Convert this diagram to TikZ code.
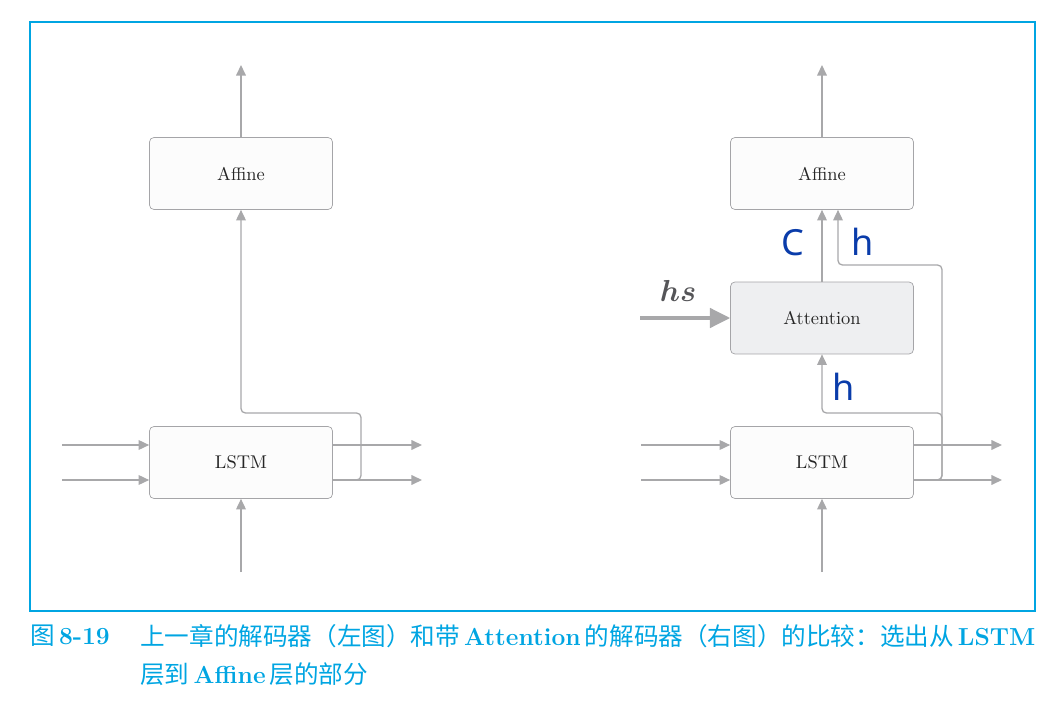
\documentclass[tikz,border=0pt]{standalone}
\usepackage{fontspec}
\usepackage{amsmath,bm}
\usetikzlibrary{arrows.meta,positioning,calc}
\newfontfamily\cjk{Noto Sans CJK SC}
\newfontfamily\hand{Noto Sans}
\definecolor{linegray}{RGB}{168,168,170}
\definecolor{boxgray}{RGB}{165,165,168}
\definecolor{attgray}{RGB}{238,239,241}
\definecolor{capcyan}{RGB}{0,165,226}
\definecolor{handblue}{RGB}{10,60,170}
\definecolor{hsgray}{RGB}{85,85,88}
\newcommand{\zh}[1]{{\cjk #1}}
\tikzset{
  blk/.style={draw=boxgray,rounded corners=2.5pt,fill=black!1,
              minimum width=3.66cm,minimum height=1.44cm,inner sep=0pt,
              font=\fontsize{10.5}{12}\selectfont,text=black!85},
  blkA/.style={blk,fill=attgray},
  ar/.style={-{Triangle[length=6pt,width=5.5pt]},linegray,line width=0.75pt},
  hsar/.style={-{Triangle[length=11.5pt,width=11pt]},linegray,line width=2pt},
  hnd/.style={text=handblue,font=\hand\fontsize{20.5}{22}\selectfont},
  captxt/.style={anchor=west,inner sep=0pt,text=capcyan,font=\fontsize{14}{16}\selectfont},
}

\begin{document}
\begin{tikzpicture}[x=0.02cm,y=-0.02cm]
  \useasboundingbox (0,0) rectangle (1063,710);
  \draw[capcyan,line width=0.6pt] (30,22) rectangle (1035,611);

  % left: decoder of the previous chapter
  \node[blk] (aff1) at (241,173.5) {Affine};
  \node[blk] (lstm1) at (241,462.5) {LSTM};
  \coordinate (top1) at (241,65);
  \coordinate (bot1) at (241,572);
  \coordinate (in1a) at (62,445);
  \coordinate (in1b) at (62,480);
  \coordinate (out1a) at (422,445);
  \coordinate (out1b) at (422,480);
  \coordinate (k1) at (361,413);
  \draw[ar] (aff1.north) -- (top1);
  \draw[ar] (bot1) -- (lstm1.south);
  \draw[ar] (in1a) -- (in1a -| lstm1.west);
  \draw[ar] (in1b) -- (in1b -| lstm1.west);
  \draw[ar] (lstm1.east |- out1a) -- (out1a);
  \draw[ar] (lstm1.east |- out1b) -- (out1b);
  \draw[ar,rounded corners=2.5pt] (lstm1.east |- out1b) -| (k1) -| (aff1.south);

  % right: decoder with Attention
  \node[blk] (aff2) at (822,173.5) {Affine};
  \node[blkA] (att2) at (822,318) {Attention};
  \node[blk] (lstm2) at (822,462.5) {LSTM};
  \coordinate (top2) at (822,65);
  \coordinate (bot2) at (822,572);
  \coordinate (in2a) at (641,445);
  \coordinate (in2b) at (641,480);
  \coordinate (out2a) at (1002,445);
  \coordinate (out2b) at (1002,480);
  \coordinate (k2a) at (942,265);
  \coordinate (k2b) at (942,413);
  \coordinate (hin) at ($(aff2.south)+(16,0)$);
  \coordinate (hsin) at (640,318);
  \draw[ar] (aff2.north) -- (top2);
  \draw[ar] (bot2) -- (lstm2.south);
  \draw[ar] (in2a) -- (in2a -| lstm2.west);
  \draw[ar] (in2b) -- (in2b -| lstm2.west);
  \draw[ar] (lstm2.east |- out2a) -- (out2a);
  \draw[ar] (lstm2.east |- out2b) -- (out2b);
  \draw[ar] (att2.north) -- (aff2.south);
  \draw[ar,rounded corners=2.5pt] (lstm2.east |- out2b) -| (k2a) -| (hin);
  \draw[ar,rounded corners=2.5pt] (lstm2.east |- out2b) -| (k2b) -| (att2.south);
  \draw[hsar] (hsin) -- (att2.west);
  \node[text=hsgray,font=\fontsize{18}{20}\selectfont] (hs) at (678,291) {$\boldsymbol{hs}$};

  % handwritten notes
  \node[hnd] (lc) at (793,243) {C};
  \node[hnd] (lh1) at (863,242) {h};
  \node[hnd] (lh2) at (844,387) {h};

  % caption
  \node[captxt] (capno) at (30,636) {\zh{图}\,\textbf{8-19}};
  \node[captxt] (cap1) at (140,636) {\zh{上一章的解码器（左图）和带}\,\textbf{Attention}\,\zh{的解码器（右图）的比较：选出从}\,\textbf{LSTM}};
  \node[captxt] (cap2) at (140,674) {\zh{层到}\,\textbf{Affine}\,\zh{层的部分}};
\end{tikzpicture}
\end{document}
